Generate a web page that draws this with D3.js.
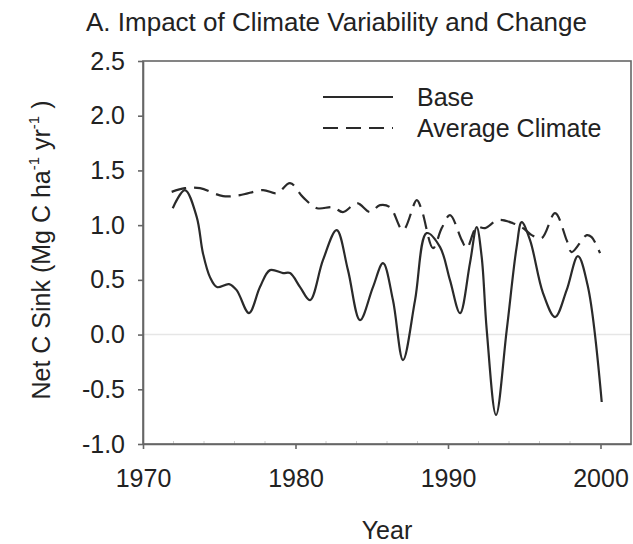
<!DOCTYPE html>
<html>
<head>
<meta charset="utf-8">
<script src="https://cdn.jsdelivr.net/npm/d3@7"></script>
<style>
  body { margin: 0; background: #fff; }
  text { font-family: "Liberation Sans", Arial, sans-serif; fill: #222; }
</style>
</head>
<body>
<div id="chart"></div>
<script>
// values (year, Mg C/ha/yr)
const baseYears = [1971.95, 1972.75, 1973.52, 1973.93, 1974.39, 1974.85, 1975.64, 1976.14, 1976.95, 1977.67,
                   1978.33, 1979.18, 1979.64, 1980.3, 1980.95, 1981.8, 1982.7, 1983.44, 1984.23, 1985.08,
                   1985.74, 1986.39, 1987.05, 1987.84, 1988.6, 1989.48, 1990.13, 1990.79, 1991.44, 1991.88,
                   1992.21, 1992.54, 1993.15, 1993.85, 1994.5, 1994.83, 1995.38, 1996.23, 1997.02, 1997.78,
                   1998.52, 1999.18, 2000.08];
const baseValues = [1.155, 1.32, 1.076, 0.744, 0.525, 0.434, 0.461, 0.406, 0.196, 0.434,
                    0.589, 0.562, 0.562, 0.434, 0.315, 0.68, 0.954, 0.589, 0.132, 0.434,
                    0.653, 0.315, -0.233, 0.315, 0.927, 0.799, 0.498, 0.196, 0.653, 0.982,
                    0.708, 0.041, -0.735, 0.041, 0.799, 1.027, 0.863, 0.379, 0.16, 0.406,
                    0.717, 0.434, -0.616];

const avgYears = [1971.88, 1972.75, 1973.74, 1975.25, 1976.36, 1977.87, 1978.79, 1979.64, 1980.49, 1981.41,
                  1982.46, 1983.11, 1984.03, 1984.89, 1985.54, 1986.2, 1987.05, 1987.95, 1988.28, 1989.02,
                  1989.59, 1990.13, 1990.9, 1991.23, 1991.88, 1992.43, 1993.28, 1994.26, 1994.92, 1995.49,
                  1996.14, 1997.02, 1997.78, 1998.11, 1999.1, 1999.42, 1999.97];
const avgValues = [1.304, 1.338, 1.338, 1.265, 1.274, 1.32, 1.292, 1.384, 1.256, 1.155,
                   1.164, 1.119, 1.201, 1.119, 1.183, 1.164, 0.954, 1.228, 1.137, 0.79,
                   0.973, 1.091, 0.863, 0.79, 0.982, 0.973, 1.046, 1.018, 0.973, 0.909,
                   0.881, 1.11, 0.863, 0.753, 0.909, 0.89, 0.744];

const xTicks = [1970, 1980, 1990, 2000];
const yTicks = [-1.0, -0.5, 0.0, 0.5, 1.0, 1.5, 2.0, 2.5];
const seriesNames = ['Base', 'Average Climate'];

const width = 633,
      height = 544,
      plotLeft = 143, plotRight = 631, plotTop = 61, plotBottom = 444;

const svg = d3.select('#chart')
              .append('svg')
              .attr('width', width)
              .attr('height', height);

const x = d3.scaleLinear().domain([1970, 2002]).range([plotLeft, plotRight]);
const y = d3.scaleLinear().domain([-1, 2.5]).range([plotBottom, plotTop]);

// faint zero line
svg.append('line')
   .attr('x1', plotLeft).attr('x2', plotRight)
   .attr('y1', y(0)).attr('y2', y(0))
   .attr('stroke', '#e6e6e6')
   .attr('stroke-width', 1.5);

// minor x ticks every 2 years
svg.append('g')
   .selectAll('line')
   .data(d3.range(1972, 2002, 2).filter(d => d % 10 !== 0))
   .enter().append('line')
   .attr('x1', d => x(d)).attr('x2', d => x(d))
   .attr('y1', plotBottom - 3).attr('y2', plotBottom + 1)
   .attr('stroke', '#ccc');

// box
svg.append('rect')
   .attr('x', plotLeft).attr('y', plotTop)
   .attr('width', plotRight - plotLeft).attr('height', plotBottom - plotTop)
   .attr('fill', 'none')
   .attr('stroke', '#666')
   .attr('stroke-width', 1.6);

const xAxis = d3.axisBottom(x)
                .tickValues(xTicks)
                .tickFormat(d3.format('d'))
                .tickSize(5)
                .tickSizeOuter(0)
                .tickPadding(20);

const yAxis = d3.axisLeft(y)
                .tickValues(yTicks)
                .tickFormat(d3.format('.1f'))
                .tickSize(5)
                .tickSizeOuter(0)
                .tickPadding(13);

const xg = svg.append('g')
              .attr('transform', 'translate(0,' + plotBottom + ')')
              .call(xAxis);

const yg = svg.append('g')
              .attr('transform', 'translate(' + plotLeft + ',0)')
              .call(yAxis);

[xg, yg].forEach(function(g) {
  g.select('.domain').attr('stroke', '#666').attr('stroke-width', 1.6);
  g.selectAll('.tick line').attr('stroke', '#666').attr('stroke-width', 1.6);
  g.selectAll('.tick text')
   .attr('fill', '#222')
   .style('font-family', '"Liberation Sans", Arial, sans-serif')
   .style('font-size', '25px');
});
yg.selectAll('.tick text').text(d => d < 0 ? '-' + Math.abs(d).toFixed(1) : d.toFixed(1));

const line = d3.line()
               .x(d => x(d[0]))
               .y(d => y(d[1]))
               .curve(d3.curveCatmullRom.alpha(0.5));

svg.append('path')
   .datum(d3.zip(avgYears, avgValues))
   .attr('d', line)
   .attr('fill', 'none')
   .attr('stroke', '#2a2a2a')
   .attr('stroke-width', 2.2)
   .attr('stroke-dasharray', '15,8');

svg.append('path')
   .datum(d3.zip(baseYears, baseValues))
   .attr('d', line)
   .attr('fill', 'none')
   .attr('stroke', '#2a2a2a')
   .attr('stroke-width', 2.2);

// legend
const legend = svg.append('g');
seriesNames.forEach(function(name, i) {
  const ly = 97 + i * 31;
  legend.append('line')
        .attr('x1', 323).attr('x2', 393)
        .attr('y1', ly).attr('y2', ly)
        .attr('stroke', '#2a2a2a')
        .attr('stroke-width', 2.2)
        .attr('stroke-dasharray', i === 0 ? null : '15,8');
  legend.append('text')
        .attr('x', 417).attr('y', ly + 9)
        .style('font-size', '25px')
        .text(name);
});

// title and labels
svg.append('text')
   .attr('x', 86).attr('y', 31)
   .style('font-size', '26px')
   .text('A. Impact of Climate Variability and Change');

svg.append('text')
   .attr('x', (plotLeft + plotRight) / 2).attr('y', 539)
   .attr('text-anchor', 'middle')
   .style('font-size', '25px')
   .text('Year');

const yl = svg.append('text')
              .attr('transform', 'translate(50,250) rotate(-90)')
              .attr('text-anchor', 'middle')
              .style('font-size', '25px');
yl.append('tspan').text('Net C Sink (Mg C ha');
yl.append('tspan').attr('dy', -11).style('font-size', '15px').text('-1');
yl.append('tspan').attr('dy', 11).text(' yr');
yl.append('tspan').attr('dy', -11).style('font-size', '15px').text('-1');
yl.append('tspan').attr('dy', 11).text(' )');
</script>
</body>
</html>
